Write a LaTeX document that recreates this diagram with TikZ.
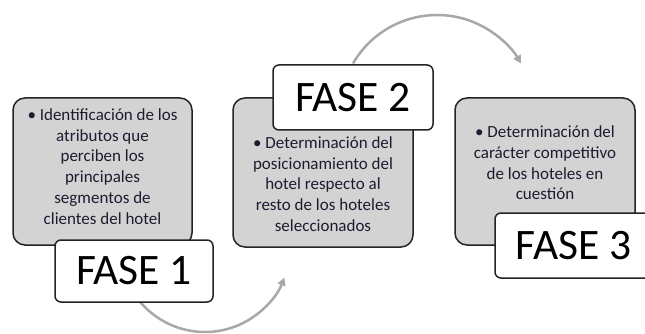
\documentclass[tikz,border=0pt]{standalone}
\usepackage{fontspec}
\setmainfont{Carlito}
\usetikzlibrary{arrows.meta}
\definecolor{boxgray}{RGB}{211,211,211}
\definecolor{edgecol}{RGB}{35,35,35}
\definecolor{arcgray}{RGB}{168,168,168}
\definecolor{txt}{RGB}{28,28,48}
\begin{document}
\begin{tikzpicture}[x=1pt,y=-1pt,
  greybox/.style={draw=edgecol, line width=1.5pt, fill=boxgray, rounded corners=12pt, inner sep=0pt},
  phasebox/.style={draw=edgecol, line width=1.5pt, fill=white, rounded corners=6pt, inner sep=0pt,
    font=\fontsize{43.5}{50}\selectfont, text=black},
  body/.style={align=center, text=txt, font=\fontsize{17}{20.7}\selectfont, inner sep=0pt},
  flow/.style={draw=arcgray, line width=2.5pt, -{Triangle[length=8pt,width=8pt]}}]
\useasboundingbox (0,0) rectangle (645,334);
\clip (0,0) rectangle (645,334);
% arcs
\coordinate (c1s) at (131.4,289.5);
\coordinate (c2s) at (353,63.5);
\draw[flow] (c1s) arc[start angle=150, end angle=21, radius=85];
\draw[flow] (c2s) arc[start angle=-150, end angle=-30, radius=97];
% grey boxes
\node[greybox, minimum width=179pt, minimum height=147pt] (g1) at (102.5,171.5) {};
\node[greybox, minimum width=180pt, minimum height=149pt] (g2) at (323,172.5) {};
\node[greybox, minimum width=180pt, minimum height=147pt] (g3) at (545,171.5) {};
% texts
\node[body] (t1) at (102.5,166.5) {• Identificación de los\\atributos que\\perciben los\\principales\\segmentos de\\clientes del hotel};
\node[body] (t2) at (323,184) {• Determinación del\\posicionamiento del\\hotel respecto al\\resto de los hoteles\\seleccionados};
\node[body] (t3) at (545,163) {• Determinación del\\carácter competitivo\\de los hoteles en\\cuestión};
% phase labels
\node[phasebox, minimum width=158pt, minimum height=62pt] (f1) at (134,271) {FASE 1};
\node[phasebox, minimum width=160pt, minimum height=65pt] (f2) at (353,97.5) {FASE 2};
\node[phasebox, minimum width=157pt, minimum height=65pt] (f3) at (573.5,245.5) {FASE 3};
\end{tikzpicture}
\end{document}
